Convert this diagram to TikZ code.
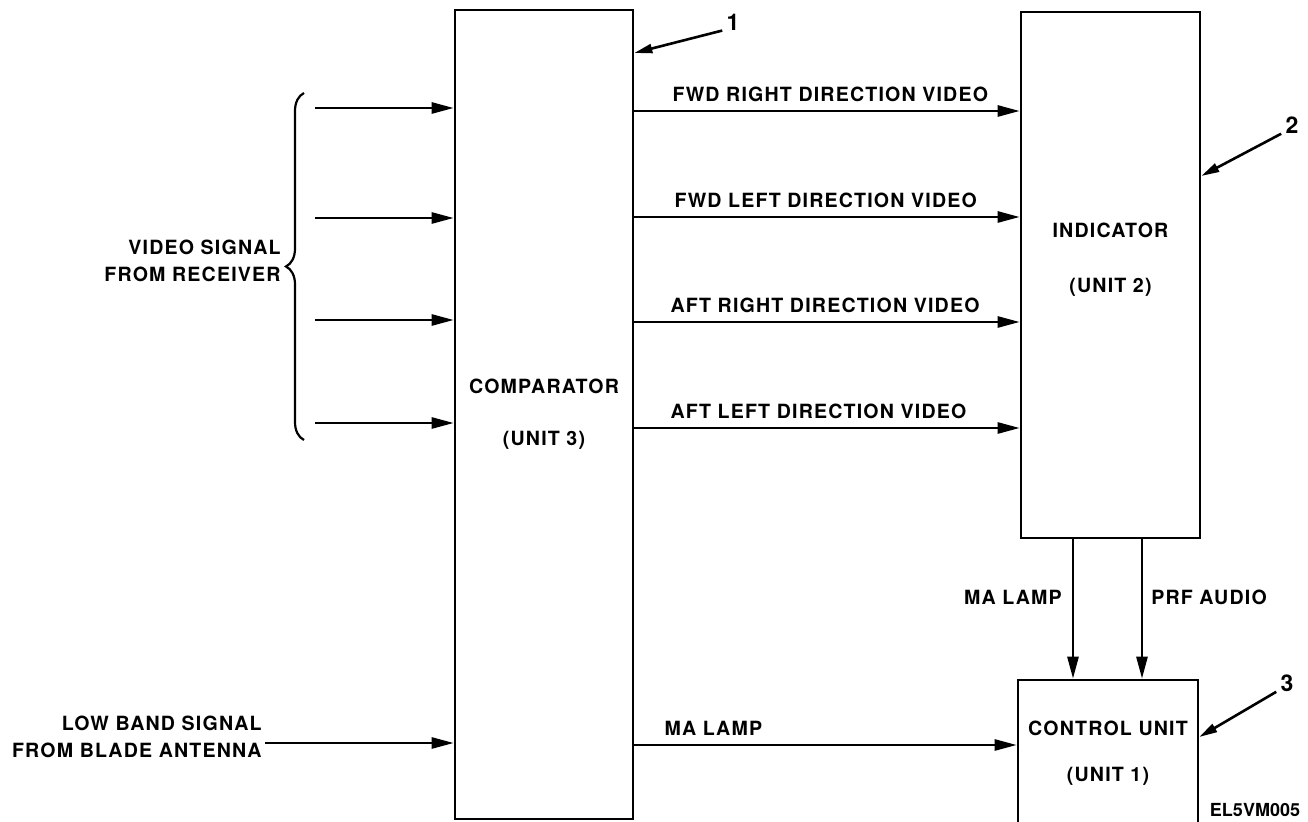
\documentclass[tikz,border=0pt]{standalone}
\usepackage{fontspec}
\newfontfamily\diafont{TeX Gyre Heros}[LetterSpace=6]
\newfontfamily\tagfont{TeX Gyre Heros}
\usetikzlibrary{arrows.meta,positioning,decorations.pathreplacing}

\begin{document}
\begin{tikzpicture}[x=0.5pt,y=-0.5pt,>={Triangle[length=11pt,width=5.5pt]},
  lbl/.style={font=\diafont\bfseries\fontsize{9.8}{13.5}\selectfont,inner sep=0pt},
  unitbox/.style={draw,line width=1.3pt,inner sep=0pt,align=center,
    font=\diafont\bfseries\fontsize{9.8}{11}\selectfont},
  sig/.style={->,line width=1.3pt},
  callout/.style={-{Triangle[length=9pt,width=4.5pt]},line width=1.3pt}]

\useasboundingbox (0,0) rectangle (1308,822);

% units
\node[unitbox,minimum width=89pt,minimum height=404.5pt] (comp) at (544,414.5) {COMPARATOR\\[15pt](UNIT 3)};
\node[unitbox,minimum width=89.5pt,minimum height=263pt] (ind) at (1110.5,275) {INDICATOR\\[16.5pt](UNIT 2)\\[6pt]};
\node[unitbox,minimum width=90pt,minimum height=73pt] (ctrl) at (1108,753) {CONTROL UNIT\\[12pt](UNIT 1)};

% video inputs from receiver
\foreach \yy [count=\i] in {108,218,320,423}{
  \coordinate (vin\i) at (315,\yy);
  \draw[sig] (vin\i) -- (comp.west |- vin\i);
}
\draw[line width=1.1pt,decorate,decoration={brace,amplitude=9pt}] (304,440) -- (304,93);
\node[lbl,align=right,anchor=east] (vsig) at (281,261) {VIDEO SIGNAL\\FROM RECEIVER};

% direction video
\foreach \yy/\txt/\dx in {111/FWD RIGHT DIRECTION VIDEO/37,217/FWD LEFT DIRECTION VIDEO/39,
    322/AFT RIGHT DIRECTION VIDEO/35,428/AFT LEFT DIRECTION VIDEO/35}
  \draw[sig] (comp.east |- 0,\yy) -- node[lbl,pos=0,anchor=base west,xshift=\dx*0.5pt,yshift=4.5pt]{\txt} (ind.west |- 0,\yy);

% low band input
\coordinate (lbin) at (265,743);
\draw[sig] (lbin) -- (comp.west |- lbin);
\node[lbl,align=right,anchor=east] (lbs) at (262,737) {LOW BAND SIGNAL\\FROM BLADE ANTENNA};

% to control unit
\draw[sig] (comp.east |- 0,745) -- node[lbl,pos=0,anchor=base west,xshift=14.5pt,yshift=4.5pt]{MA LAMP} (ctrl.west |- 0,745);
\draw[sig] (ind.south -| 1073,0) -- node[lbl,pos=0.42,left=5pt]{MA LAMP} (ctrl.north -| 1073,0);
\draw[sig] (ind.south -| 1142,0) -- node[lbl,pos=0.42,right=4pt]{PRF AUDIO} (ctrl.north -| 1142,0);

% callouts
\node[lbl,font=\diafont\bfseries\fontsize{11.5}{13}\selectfont] (c1) at (733,22) {1};
\draw[callout] ([xshift=-2pt]c1.south west) -- (comp.east |- 0,53);
\node[lbl,font=\diafont\bfseries\fontsize{11.5}{13}\selectfont] (c2) at (1292,125) {2};
\draw[callout] ([xshift=-2pt]c2.south west) -- (ind.east |- 0,176);
\node[lbl,font=\diafont\bfseries\fontsize{11.5}{13}\selectfont] (c3) at (1287,683) {3};
\draw[callout] ([xshift=-2pt]c3.south west) -- (ctrl.east |- 0,737);

\node[font=\tagfont\bfseries\fontsize{9}{10}\selectfont,inner sep=0pt] (fig) at (1255,810) {EL5VM005};
\end{tikzpicture}
\end{document}
